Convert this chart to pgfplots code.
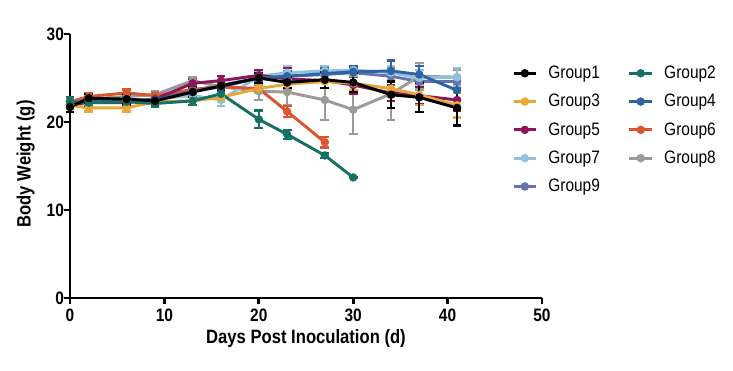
\documentclass[border=0pt]{standalone}
\usepackage{fontspec}
\setmainfont{Liberation Sans}[FakeStretch=0.86]
\usepackage{pgfplots}
\pgfplotsset{compat=1.18}
\usepackage{pgfplotstable}

\definecolor{cA}{HTML}{000000}
\definecolor{cB}{HTML}{137264}
\definecolor{cC}{HTML}{E8A838}
\definecolor{cD}{HTML}{2B65A3}
\definecolor{cE}{HTML}{8C1458}
\definecolor{cF}{HTML}{D9562E}
\definecolor{cG}{HTML}{91C1DF}
\definecolor{cH}{HTML}{9A9A9A}
\definecolor{cI}{HTML}{6773AD}

\pgfplotstableread{
x y e
0 21.7 0.6
2 22.7 0.5
6 22.6 0.6
9 22.4 0.5
13 23.4 0.6
16 24.1 0.5
20 25.0 0.6
23 24.5 0.6
27 24.8 0.9
30 24.5 1.1
34 23.1 1.5
37 22.8 1.7
41 21.6 2.0
}\gA
\pgfplotstableread{
x y e
0 22.3 0.5
2 22.2 0.4
6 22.3 0.4
9 22.1 0.4
13 22.4 0.5
16 23.2 0.5
20 20.3 1.0
23 18.6 0.5
27 16.2 0.3
30 13.7 0.0
}\gB
\pgfplotstableread{
x y e
0 21.9 0.4
2 21.6 0.4
6 21.6 0.4
9 22.3 0.4
13 22.4 0.5
16 22.8 0.5
20 23.8 0.5
23 24.3 0.6
27 24.6 0.7
30 24.4 0.8
34 23.8 1.0
37 23.1 1.2
41 21.9 1.4
}\gC
\pgfplotstableread{
x y e
0 22.0 0.4
2 22.4 0.4
6 22.5 0.4
9 22.5 0.4
13 23.5 0.5
16 24.0 0.5
20 25.0 0.5
23 25.2 0.6
27 25.5 0.6
30 25.7 0.6
34 25.8 1.2
37 25.4 1.0
41 23.6 1.0
}\gD
\pgfplotstableread{
x y e
0 22.0 0.4
2 22.2 0.4
6 22.2 0.4
9 22.6 0.4
13 24.4 0.5
16 24.7 0.5
20 25.3 0.6
23 24.9 1.2
27 24.7 0.8
30 24.2 1.0
34 23.3 0.9
37 23.0 1.0
41 22.5 1.2
}\gE
\pgfplotstableread{
x y e
0 22.3 0.4
2 22.9 0.4
6 23.3 0.4
9 23.0 0.4
13 23.7 0.4
16 24.0 0.4
20 23.8 0.4
23 21.2 0.6
27 17.7 0.6
}\gF
\pgfplotstableread{
x y e
0 22.0 0.4
2 22.3 0.4
6 22.4 0.4
9 22.6 0.4
13 23.0 0.5
16 22.5 0.7
20 25.2 0.6
23 25.6 0.8
27 25.8 0.6
30 25.9 0.5
34 25.6 0.8
37 25.0 0.9
41 25.1 1.0
}\gG
\pgfplotstableread{
x y e
0 22.0 0.4
2 22.6 0.4
6 22.9 0.4
9 23.1 0.4
13 24.7 0.4
16 24.0 0.5
20 23.5 1.0
23 23.4 1.5
27 22.5 2.3
30 21.4 2.8
34 23.2 3.0
37 25.2 1.5
41 25.1 0.8
}\gH
\pgfplotstableread{
x y e
0 22.0 0.4
2 22.3 0.4
6 22.4 0.4
9 22.6 0.4
13 23.6 0.5
16 24.2 0.5
20 25.0 0.5
23 25.2 0.5
27 25.4 0.5
30 25.6 0.5
34 25.2 0.6
37 24.6 0.6
41 24.6 0.6
}\gI

\pgfplotsset{
  grp/.style={color=#1, line width=2.2pt, mark=*, mark size=2.9pt,
    mark options={solid, fill=#1, draw=#1, line width=0.5pt}},
  eb/.style={error bars/y dir=both, error bars/y explicit,
    error bars/error bar style={line width=1.7pt},
    error bars/error mark options={rotate=90, mark size=3.3pt, line width=1.7pt}},
}

\begin{document}
\begin{tikzpicture}[x=0.75pt,y=0.75pt]
\useasboundingbox (-70,-73) rectangle (663,298);
\begin{axis}[
  at={(0,0)}, anchor=south west,
  scale only axis, width=354pt, height=198pt,
  xmin=0, xmax=50, ymin=0, ymax=30,
  axis x line*=bottom, axis y line*=left,
  axis line style={line width=2.2pt, black},
  xtick={0,10,20,30,40,50}, ytick={0,10,20,30},
  tick align=outside, major tick length=4.5pt,
  every tick/.style={line width=2pt, black},
  /pgf/number format/assume math mode=true,
  tick label style={font=\fontsize{13.5}{16}\selectfont\bfseries},
  yticklabel style={xshift=3.5pt},
  xlabel={Days Post Inoculation (d)},
  ylabel={Body Weight (g)},
  label style={font=\fontsize{14.5}{17}\selectfont\bfseries},
  xlabel style={at={(axis description cs:0.5,-0.172)}, anchor=base},
  ylabel style={at={(axis description cs:-0.094,0.508)}, anchor=center},
  clip=false,
  legend columns=2,
  legend cell align=left,
  legend style={draw=none, fill=none, at={(rel axis cs:0.936,0.89)}, anchor=north west,
    font=\fontsize{13.5}{16}\selectfont, inner sep=0pt,
    nodes={inner sep=2pt}, row sep=6.3pt,
    /tikz/every odd column/.append style={column sep=6pt},
    /tikz/every even column/.append style={column sep=19pt}},
  legend image code/.code={\draw[#1, mark repeat=2, mark phase=2] plot coordinates {(0pt,0pt)(8.5pt,0pt)(17pt,0pt)};},
]
\addlegendimage{grp=cA}\addlegendentry{Group1}
\addlegendimage{grp=cB}\addlegendentry{Group2}
\addlegendimage{grp=cC}\addlegendentry{Group3}
\addlegendimage{grp=cD}\addlegendentry{Group4}
\addlegendimage{grp=cE}\addlegendentry{Group5}
\addlegendimage{grp=cF}\addlegendentry{Group6}
\addlegendimage{grp=cG}\addlegendentry{Group7}
\addlegendimage{grp=cH}\addlegendentry{Group8}
\addlegendimage{grp=cI}\addlegendentry{Group9}

\addplot[forget plot, grp=cI, eb] table[x=x, y=y, y error=e] {\gI};
\addplot[forget plot, grp=cH, eb] table[x=x, y=y, y error=e] {\gH};
\addplot[forget plot, grp=cG, eb] table[x=x, y=y, y error=e] {\gG};
\addplot[forget plot, grp=cF, eb] table[x=x, y=y, y error=e] {\gF};
\addplot[forget plot, grp=cE, eb] table[x=x, y=y, y error=e] {\gE};
\addplot[forget plot, grp=cD, eb] table[x=x, y=y, y error=e] {\gD};
\addplot[forget plot, grp=cC, eb] table[x=x, y=y, y error=e] {\gC};
\addplot[forget plot, grp=cB, eb] table[x=x, y=y, y error=e] {\gB};
\addplot[forget plot, grp=cA, eb] table[x=x, y=y, y error=e] {\gA};
\end{axis}
\end{tikzpicture}
\end{document}
